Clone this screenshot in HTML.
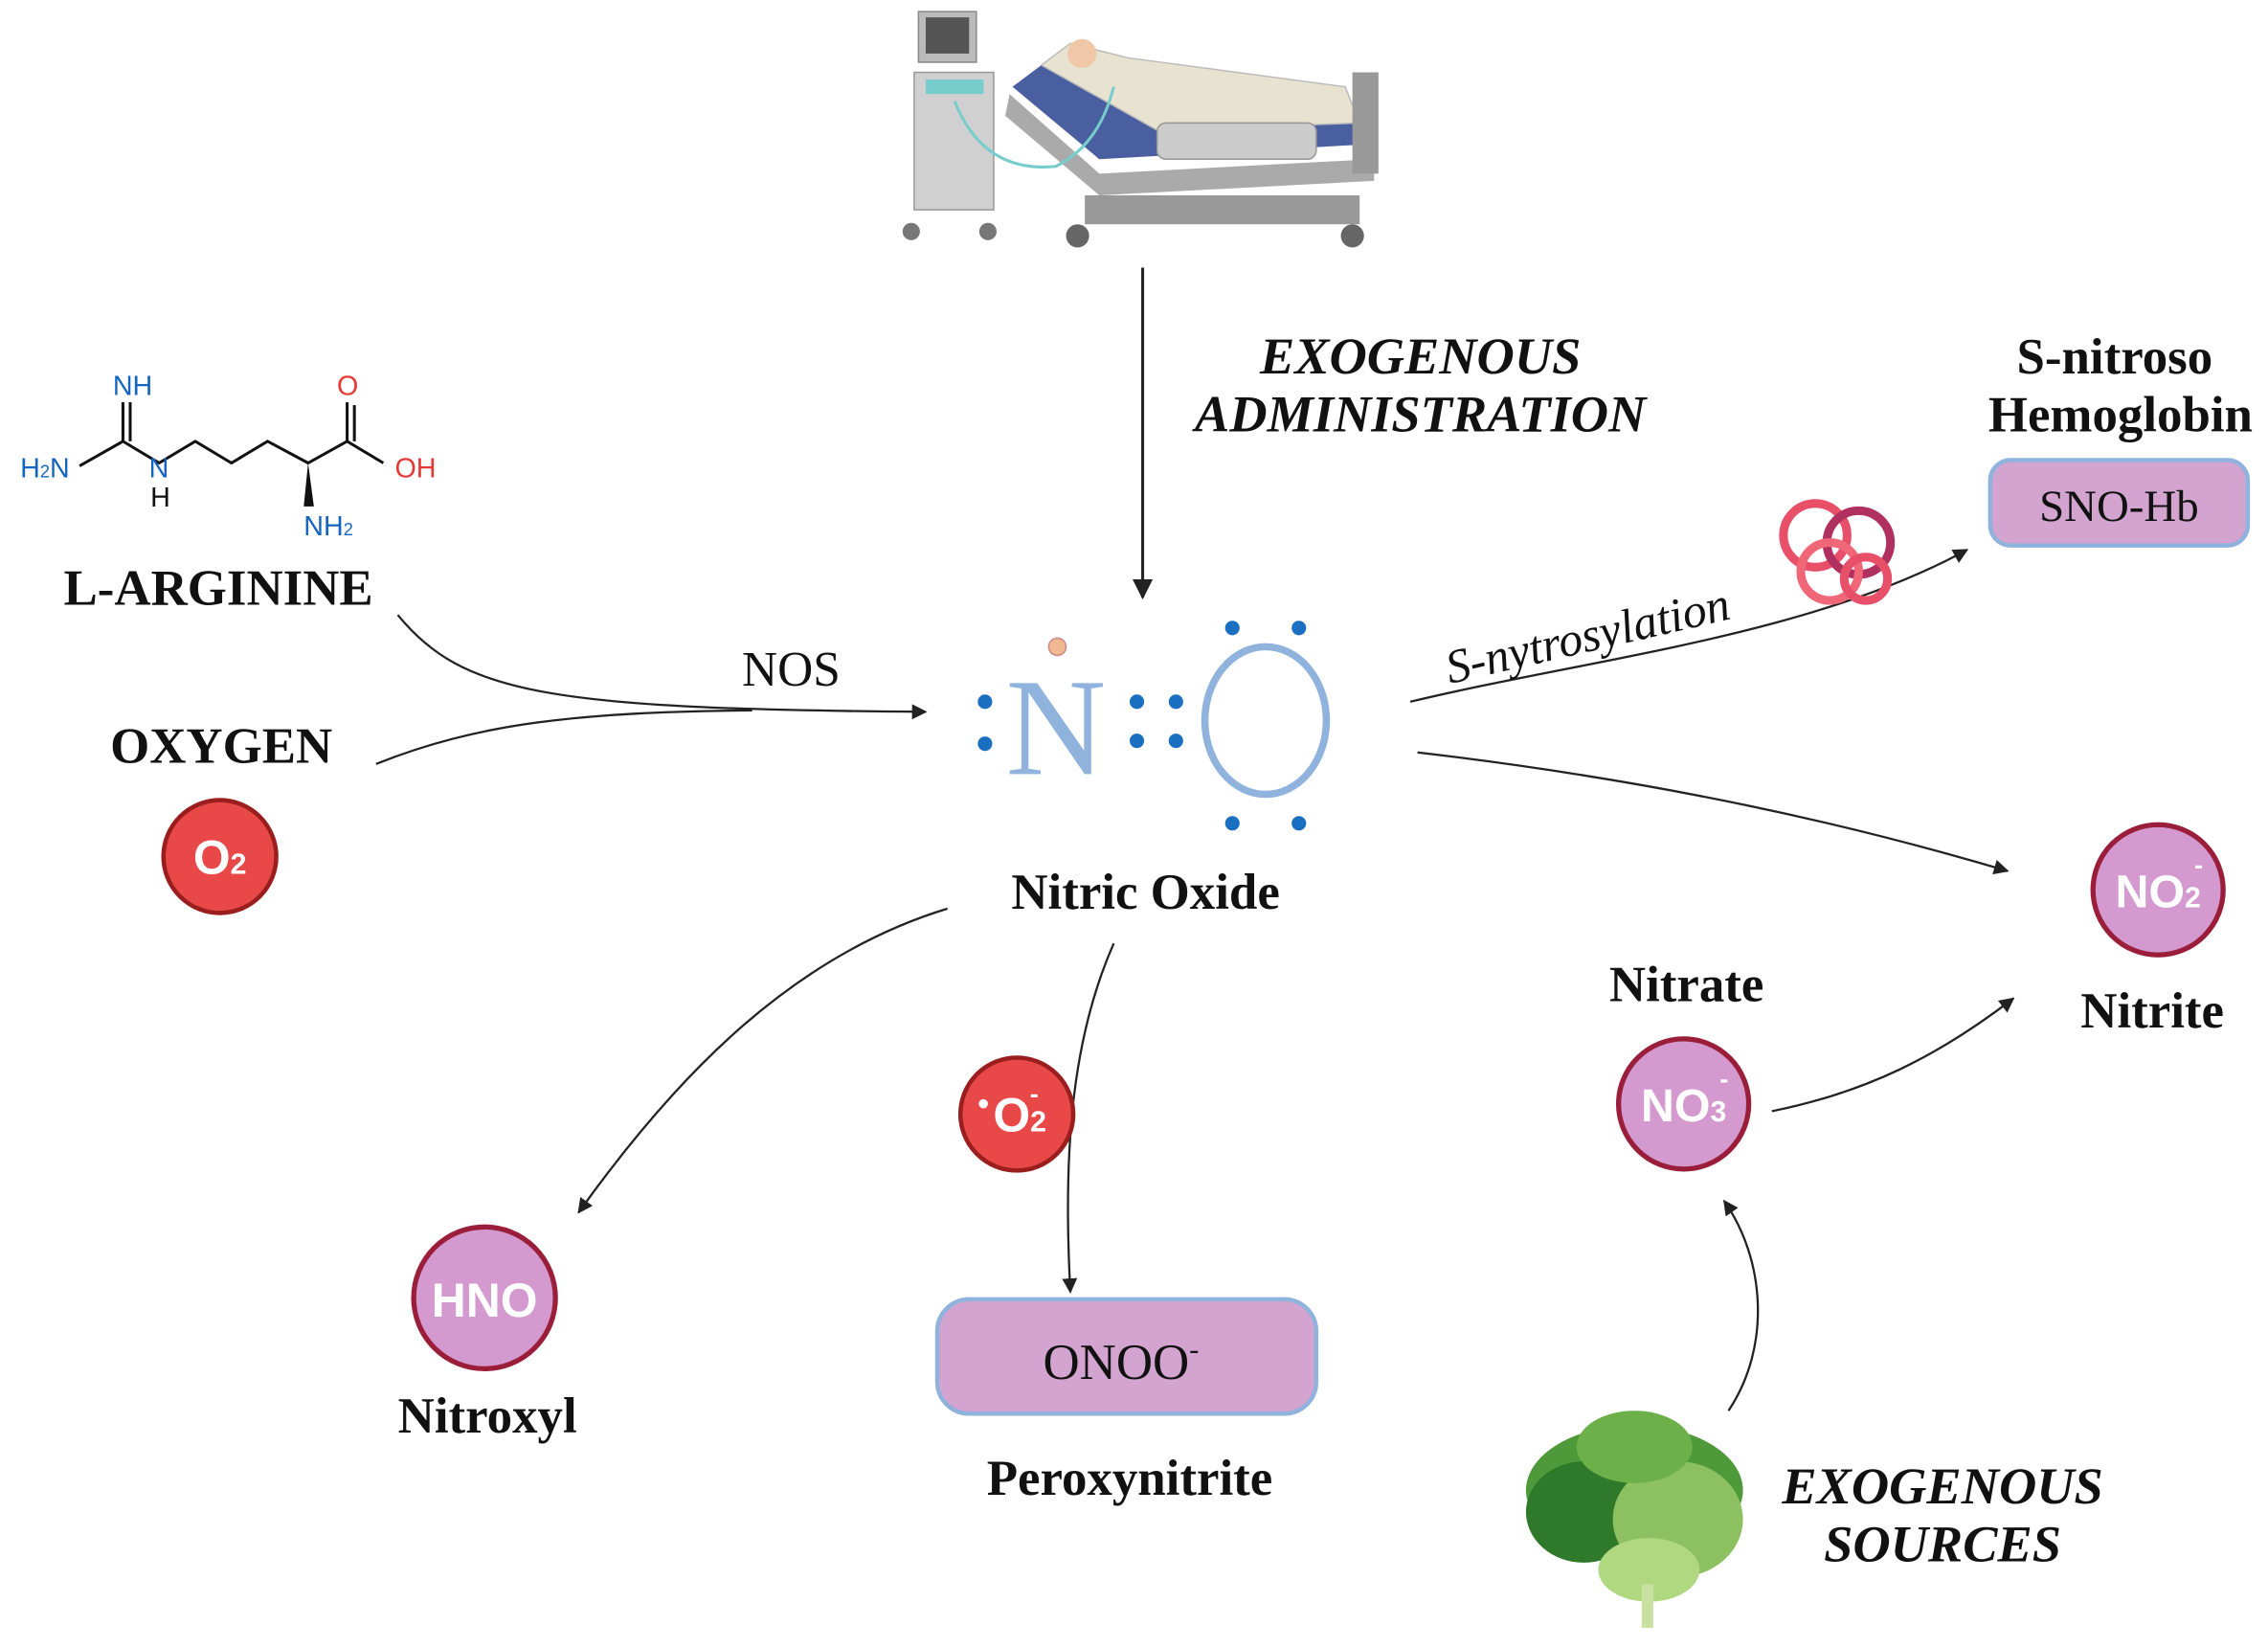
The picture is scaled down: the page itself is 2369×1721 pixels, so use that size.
<!DOCTYPE html>
<html><head><meta charset="utf-8"><style>
html,body{margin:0;padding:0;background:#fff;}
svg{display:block;}
.b{font-family:"Liberation Serif",serif;font-weight:bold;fill:#111;}
.bi{font-family:"Liberation Serif",serif;font-weight:bold;font-style:italic;fill:#111;}
.s{font-family:"Liberation Sans",sans-serif;font-weight:bold;fill:#fff;}
</style></head><body>
<svg width="2369" height="1721" viewBox="0 0 1568 1139" preserveAspectRatio="none" xmlns="http://www.w3.org/2000/svg">
<defs><marker id="a" viewBox="0 0 10 10" refX="9" refY="5" markerWidth="7" markerHeight="7" orient="auto"><path d="M0,0 L10,5 L0,10 z" fill="#222"/></marker></defs>

<!-- ventilator -->
<rect x="635" y="8" width="40" height="35" fill="#bbb" stroke="#888"/>
<rect x="640" y="12" width="30" height="25" fill="#555"/>
<rect x="632" y="50" width="55" height="95" fill="#d0d0d0" stroke="#999"/>
<rect x="640" y="55" width="40" height="10" fill="#7cc"/>
<circle cx="630" cy="160" r="6" fill="#777"/><circle cx="683" cy="160" r="6" fill="#777"/>
<!-- bed -->
<path d="M700,60 L760,110 L940,100 L945,85 L800,90 L720,45 z" fill="#4a5fa0"/>
<path d="M720,45 L740,30 L780,40 L930,60 L940,85 L800,90 z" fill="#e8e2d0" stroke="#bbb"/>
<circle cx="748" cy="37" r="10" fill="#f0c8a8"/>
<path d="M698,65 L760,120 L950,110 L950,125 L760,135 L695,80 z" fill="#aaa"/>
<rect x="800" y="85" width="110" height="25" rx="6" fill="#ccc" stroke="#999"/>
<rect x="935" y="50" width="18" height="70" fill="#999"/>
<rect x="750" y="135" width="190" height="20" fill="#999"/>
<circle cx="745" cy="163" r="8" fill="#666"/><circle cx="935" cy="163" r="8" fill="#666"/>
<path d="M660,70 Q680,120 730,115 Q760,100 770,60" fill="none" stroke="#7cc" stroke-width="2"/>

<line x1="790" y1="185" x2="790" y2="413" stroke="#222" stroke-width="2" marker-end="url(#a)"/>
<text class="bi" x="982" y="258" font-size="36" text-anchor="middle">EXOGENOUS</text>
<text class="bi" x="982" y="298" font-size="36" text-anchor="middle">ADMINISTRATION</text>

<!-- L-arginine -->
<g stroke="#111" stroke-width="2" fill="none">
<path d="M55,322 L85,305 L110,320 L135,305 L160,320 L185,305 L213,320 L240,305 L265,320"/>
<line x1="85" y1="305" x2="85" y2="278"/><line x1="90" y1="305" x2="90" y2="278"/>
<line x1="240" y1="305" x2="240" y2="278"/><line x1="245" y1="305" x2="245" y2="280"/>
</g>
<path d="M213,320 L210,350 L217,350 z" fill="#111"/>
<g font-family="Liberation Sans,sans-serif" font-size="19">
<text x="78" y="273" fill="#1565c0">NH</text><text x="14" y="330" fill="#1565c0">H<tspan font-size="12">2</tspan>N</text>
<text x="103" y="330" fill="#1565c0">N</text><text x="104" y="350" fill="#111">H</text>
<text x="233" y="273" fill="#e53935">O</text><text x="273" y="330" fill="#e53935">OH</text>
<text x="210" y="370" fill="#1565c0">NH<tspan font-size="12">2</tspan></text>
</g>
<text class="b" x="151" y="418" font-size="35" text-anchor="middle">L-ARGININE</text>
<text class="b" x="153" y="527" font-size="35" text-anchor="middle">OXYGEN</text>
<circle cx="152" cy="592" r="39" fill="#e84848" stroke="#9a1e1e" stroke-width="3"/>
<text class="s" x="152" y="604" font-size="33" text-anchor="middle">O<tspan font-size="20">2</tspan></text>

<path d="M275,425 C320,480 380,490 640,492" fill="none" stroke="#222" stroke-width="1.5" marker-end="url(#a)"/>
<path d="M260,528 C330,500 400,492 520,491" fill="none" stroke="#222" stroke-width="1.5"/>
<text font-family="Liberation Serif,serif" x="547" y="474" font-size="34" text-anchor="middle" fill="#111">NOS</text>

<!-- NO lewis -->
<text x="730" y="535" font-family="Liberation Serif,serif" font-size="96" text-anchor="middle" fill="#8fb3dd">N</text>
<ellipse cx="875" cy="498" rx="42" ry="51" fill="none" stroke="#8fb3dd" stroke-width="5"/>
<circle cx="731" cy="447" r="6" fill="#f0b890" stroke="#c88"/>
<g fill="#1a6fc0">
<circle cx="681" cy="485" r="5"/><circle cx="681" cy="514" r="5"/>
<circle cx="786" cy="485" r="5"/><circle cx="813" cy="485" r="5"/>
<circle cx="786" cy="512" r="5"/><circle cx="813" cy="512" r="5"/>
<circle cx="852" cy="434" r="5"/><circle cx="898" cy="434" r="5"/>
<circle cx="852" cy="569" r="5"/><circle cx="898" cy="569" r="5"/>
</g>
<text class="b" x="792" y="628" font-size="35" text-anchor="middle">Nitric Oxide</text>

<!-- S-nitrosylation -->
<path d="M975,485 C1100,455 1250,440 1360,380" fill="none" stroke="#222" stroke-width="1.5" marker-end="url(#a)"/>
<text x="1100" y="450" font-size="33" text-anchor="middle" transform="rotate(-13 1100 450)" font-family="Liberation Serif,serif" font-style="italic" fill="#111">S-nytrosylation</text>
<g fill="none" stroke-width="6">
<circle cx="1255" cy="370" r="22" stroke="#e8506a"/><circle cx="1285" cy="375" r="22" stroke="#b03060"/>
<circle cx="1265" cy="395" r="20" stroke="#f06878"/><circle cx="1290" cy="400" r="15" stroke="#e8506a"/>
</g>
<text class="b" x="1462" y="258" font-size="35" text-anchor="middle">S-nitroso</text>
<text class="b" x="1466" y="298" font-size="35" text-anchor="middle">Hemoglobin</text>
<rect x="1376" y="318" width="178" height="59" rx="14" fill="#d4a4d0" stroke="#8fb3dd" stroke-width="3"/>
<text font-family="Liberation Serif,serif" x="1465" y="360" font-size="31" text-anchor="middle" fill="#111">SNO-Hb</text>

<!-- Nitrite -->
<path d="M980,520 C1150,540 1280,570 1388,602" fill="none" stroke="#222" stroke-width="1.5" marker-end="url(#a)"/>
<circle cx="1492" cy="615" r="45" fill="#d49ad0" stroke="#9a1e3a" stroke-width="3.5"/>
<text class="s" x="1492" y="627" font-size="32" text-anchor="middle">NO<tspan font-size="20">2</tspan></text>
<text class="s" x="1517" y="604" font-size="18">-</text>
<text class="b" x="1488" y="710" font-size="35" text-anchor="middle">Nitrite</text>

<text class="b" x="1166" y="692" font-size="35" text-anchor="middle">Nitrate</text>
<circle cx="1164" cy="763" r="45" fill="#d49ad0" stroke="#9a1e3a" stroke-width="3.5"/>
<text class="s" x="1164" y="775" font-size="32" text-anchor="middle">NO<tspan font-size="20">3</tspan></text>
<text class="s" x="1189" y="752" font-size="18">-</text>
<path d="M1225,768 C1290,755 1340,730 1392,690" fill="none" stroke="#222" stroke-width="1.5" marker-end="url(#a)"/>
<path d="M1195,975 C1225,930 1220,870 1192,830" fill="none" stroke="#222" stroke-width="1.5" marker-end="url(#a)"/>

<!-- lettuce -->
<g>
<ellipse cx="1130" cy="1030" rx="75" ry="45" fill="#4e9a3a"/>
<ellipse cx="1095" cy="1045" rx="40" ry="35" fill="#2f7a2a"/>
<ellipse cx="1160" cy="1050" rx="45" ry="40" fill="#8cc060"/>
<ellipse cx="1130" cy="1000" rx="40" ry="25" fill="#6cb04a"/>
<ellipse cx="1140" cy="1085" rx="35" ry="22" fill="#b0d880"/>
<rect x="1135" y="1095" width="8" height="30" fill="#c8e0a0"/>
</g>
<text class="bi" x="1343" y="1039" font-size="36" text-anchor="middle">EXOGENOUS</text>
<text class="bi" x="1343" y="1079" font-size="36" text-anchor="middle">SOURCES</text>

<!-- Nitroxyl -->
<path d="M655,628 C550,660 470,740 400,838" fill="none" stroke="#222" stroke-width="1.5" marker-end="url(#a)"/>
<circle cx="335" cy="897" r="49" fill="#d49ad0" stroke="#9a1e3a" stroke-width="3.5"/>
<text class="s" x="335" y="910" font-size="33" text-anchor="middle">HNO</text>
<text class="b" x="337" y="990" font-size="35" text-anchor="middle">Nitroxyl</text>

<!-- Peroxynitrite -->
<path d="M770,652 C740,720 735,800 740,893" fill="none" stroke="#222" stroke-width="1.5" marker-end="url(#a)"/>
<circle cx="703" cy="770" r="39" fill="#e84848" stroke="#9a1e1e" stroke-width="3"/>
<text class="s" x="705" y="782" font-size="33" text-anchor="middle">O<tspan font-size="20">2</tspan></text>
<text class="s" x="676" y="770" font-size="22">•</text>
<text class="s" x="712" y="762" font-size="18">-</text>
<rect x="648" y="898" width="262" height="79" rx="22" fill="#d4a4d0" stroke="#8fb3dd" stroke-width="3"/>
<text font-family="Liberation Serif,serif" x="775" y="953" font-size="35" text-anchor="middle" fill="#111">ONOO<tspan font-size="20" dy="-14">-</tspan></text>
<text class="b" x="781" y="1033" font-size="35" text-anchor="middle">Peroxynitrite</text>
</svg>
</body></html>
